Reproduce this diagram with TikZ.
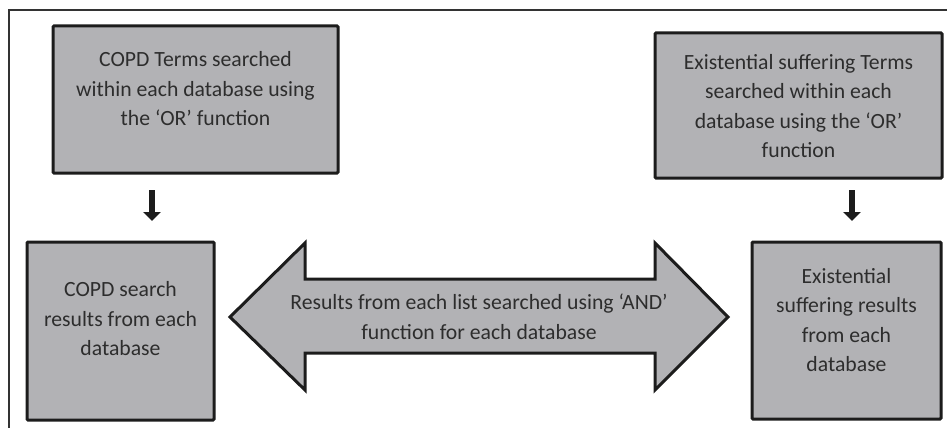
\documentclass[tikz,border=0pt]{standalone}
\usepackage{fontspec}
\setmainfont{Carlito}
\usetikzlibrary{arrows.meta}
\definecolor{boxfill}{RGB}{178,178,181}
\definecolor{boxline}{RGB}{28,28,28}
\definecolor{txtcol}{RGB}{45,45,45}
\tikzset{
  box/.style={draw=boxline, fill=boxfill, line width=3pt, rounded corners=1pt, inner sep=0pt},
  txt/.style={text=txtcol, font=\fontsize{21.7}{29.5}\selectfont, align=center, inner sep=0pt},
  downarrow/.style={draw=boxline, line width=6pt, -{Triangle[width=17pt,length=9pt]}},
  frameline/.style={draw=black!80, line width=1.2pt}
}
\begin{document}
\begin{tikzpicture}[x=1pt,y=-1pt]
\useasboundingbox (0,0) rectangle (947,428);
% frame (cropped: top and left)
\coordinate (fTR) at (947,10);
\coordinate (fTL) at (9,10);
\coordinate (fBL) at (9,428);
\draw[frameline] (fTR) -- (fTL) -- (fBL);
% boxes
\node[box, minimum width=285pt, minimum height=147pt] (b1) at (195.5,99.5) {};
\node[box, minimum width=287pt, minimum height=145pt] (b2) at (798.5,105.5) {};
\node[box, minimum width=187pt, minimum height=178pt] (b3) at (120.5,331) {};
\node[box, minimum width=189pt, minimum height=177pt] (b4) at (846.5,330.5) {};
% texts
\node[txt] (t1) at (195.5,89) {COPD Terms searched\\within each database using\\the ‘OR’ function};
\node[txt] (t2) at (798.5,106) {Existential suffering Terms\\searched within each\\database using the ‘OR’\\function};
\node[txt] (t3) at (120.5,319) {COPD search\\results from each\\database};
\node[txt] (t4) at (846.5,320) {Existential\\suffering results\\from each\\database};
% down arrows
\coordinate (a1s) at (152,190);
\coordinate (a1e) at (152,221);
\coordinate (a2s) at (852,190);
\coordinate (a2e) at (852,221);
\draw[downarrow] (a1s) -- (a1e);
\draw[downarrow] (a2s) -- (a2e);
% double arrow
\draw[box, rounded corners=0pt, line join=miter]
  (230,317) -- (305,243) -- (305,279) -- (655,279) -- (655,243) -- (728,317)
  -- (655,390) -- (655,353) -- (305,353) -- (305,390) -- cycle;
\node[txt, font=\fontsize{21.7}{30}\selectfont] (t5) at (479,317) {Results from each list searched using ‘AND’\\function for each database};
\end{tikzpicture}
\end{document}
